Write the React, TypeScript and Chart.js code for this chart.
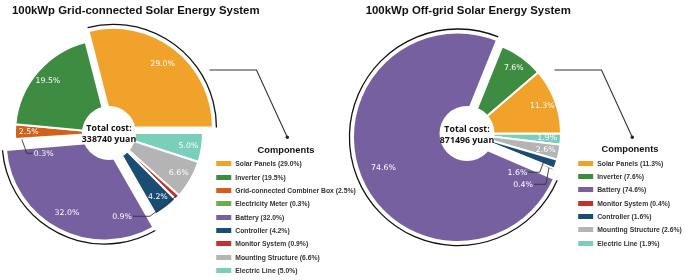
import React, { useEffect, useRef } from 'react';
import { Chart, registerables } from 'chart.js';

Chart.register(...registerables);

// ---------- data ----------
const gridTitle = '100kWp Grid-connected Solar Energy System';
const gridCategories = [
  'Solar Panels',
  'Inverter',
  'Grid-connected Combiner Box',
  'Electricity Meter',
  'Battery',
  'Controller',
  'Monitor System',
  'Mounting Structure',
  'Electric Line',
];
const gridShares = [29.0, 19.5, 2.5, 0.3, 32.0, 4.2, 0.9, 6.6, 5.0];
const gridTotalCost = 338740;

const offTitle = '100kWp Off-grid Solar Energy System';
const offCategories = [
  'Solar Panels',
  'Inverter',
  'Battery',
  'Monitor System',
  'Controller',
  'Mounting Structure',
  'Electric Line',
];
const offShares = [11.3, 7.6, 74.6, 0.4, 1.6, 2.6, 1.9];
const offTotalCost = 871496;

const legendTitle = 'Components';
const centerCaption = 'Total cost:';
const currencyUnit = 'yuan';

// ---------- styles ----------
const COLORS: Record<string, string> = {
  'Solar Panels': '#F0A22A',
  Inverter: '#3E8C41',
  'Grid-connected Combiner Box': '#D1601B',
  'Electricity Meter': '#6BAE4C',
  Battery: '#76609F',
  Controller: '#1A4D73',
  'Monitor System': '#C53028',
  'Mounting Structure': '#B4B4B4',
  'Electric Line': '#7ACFBB',
};

type Callout = { r: number; elbow: [number, number]; len: number };
type PanelStyle = {
  left: number;
  width: number;
  padding: { left: number; right: number; top: number; bottom: number };
  radius: number;
  hole: number;
  labelR: number;
  outlineGap: number;
  explode: Record<string, number>;
  scale: Record<string, number>;
  callouts: Record<string, Callout>;
  titleLeft: number;
  legendCenter: number;
  legendTop: number;
};

const CONNECTOR: [number, number][] = [
  [209.5, 70],
  [256.5, 70],
  [287.3, 137.3],
];

const gridStyle: PanelStyle = {
  left: 0,
  width: 345,
  padding: { left: 0, right: 127, top: 30, bottom: 44 },
  radius: 94,
  hole: 27,
  labelR: 0.855,
  outlineGap: 3.5,
  explode: { 'Solar Panels': 7, Battery: 10 },
  scale: { 'Solar Panels': 1.06, Battery: 1.05 },
  callouts: {
    'Electricity Meter': { r: 0.93, elbow: [5, 14], len: 6 },
    'Monitor System': { r: 0.98, elbow: [-26, 20], len: -17 },
  },
  titleLeft: 12,
  legendCenter: 286,
  legendTop: 144.1,
};

const offStyle: PanelStyle = {
  left: 345,
  width: 340,
  padding: { left: 0, right: 96, top: 30, bottom: 43 },
  radius: 94,
  hole: 27.5,
  labelR: 0.855,
  outlineGap: 3.5,
  explode: { Battery: 10 },
  scale: { Battery: 1.115 },
  callouts: {
    Controller: { r: 0.87, elbow: [-4.5, 12], len: -11.5 },
    'Monitor System': { r: 0.945, elbow: [-3, 16.5], len: -12 },
  },
  titleLeft: 365.7,
  legendCenter: 630,
  legendTop: 143.4,
};

function decorPlugin(order: string[], vals: number[], total: number, st: PanelStyle) {
  return {
    id: 'decor',
    afterDatasetUpdate(_chart: any, args: any) {
      args.meta.data.forEach((el: any, i: number) => {
        const name = order[i];
        const mid = (el.startAngle + el.endAngle) / 2;
        const ex = st.explode[name] || 0;
        el.x += Math.cos(mid) * ex;
        el.y += Math.sin(mid) * ex;
        el.outerRadius *= st.scale[name] || 1;
      });
    },
    afterDatasetsDraw(chart: any) {
      const ctx: CanvasRenderingContext2D = chart.ctx;
      const area = chart.chartArea;
      const cx = (area.left + area.right) / 2;
      const cy = (area.top + area.bottom) / 2;
      const meta = chart.getDatasetMeta(0);
      const R = st.radius;
      ctx.save();

      // outline arcs around emphasised slices
      meta.data.forEach((el: any, i: number) => {
        if (!st.scale[order[i]]) return;
        ctx.beginPath();
        ctx.arc(el.x, el.y, el.outerRadius + st.outlineGap, el.startAngle, el.endAngle);
        ctx.strokeStyle = '#111';
        ctx.lineWidth = 1.3;
        ctx.stroke();
      });

      // centre hole
      ctx.beginPath();
      ctx.arc(cx, cy, st.hole, 0, Math.PI * 2);
      ctx.fillStyle = '#fff';
      ctx.fill();

      // percentage labels
      ctx.font = '7.8px "DejaVu Sans", sans-serif';
      ctx.textBaseline = 'middle';
      meta.data.forEach((el: any, i: number) => {
        const name = order[i];
        const mid = (el.startAngle + el.endAngle) / 2;
        const text = vals[i].toFixed(1) + '%';
        const co = st.callouts[name];
        ctx.fillStyle = '#fff';
        if (co) {
          const px = el.x + Math.cos(mid) * co.r * R;
          const py = el.y + Math.sin(mid) * co.r * R;
          const ex = px + co.elbow[0];
          const ey = py + co.elbow[1];
          const tx = ex + co.len;
          ctx.beginPath();
          ctx.moveTo(px, py);
          ctx.lineTo(ex, ey);
          ctx.lineTo(tx, ey);
          ctx.strokeStyle = '#333';
          ctx.lineWidth = 0.9;
          ctx.stroke();
          ctx.textAlign = co.len > 0 ? 'left' : 'right';
          ctx.fillText(text, tx + Math.sign(co.len) * 1, ey + 0.5);
        } else {
          ctx.textAlign = 'center';
          ctx.fillText(
            text,
            el.x + Math.cos(mid) * st.labelR * R,
            el.y + Math.sin(mid) * st.labelR * R
          );
        }
      });

      // centre text
      ctx.font = '700 8.8px "Open Sans", sans-serif';
      ctx.fillStyle = '#111';
      ctx.textAlign = 'center';
      ctx.fillText(centerCaption, cx, cy - 4.3);
      ctx.fillText(`${total} ${currencyUnit}`, cx, cy + 6.8);

      // connector to legend
      ctx.beginPath();
      CONNECTOR.forEach(([x, y], k) => (k === 0 ? ctx.moveTo(x, y) : ctx.lineTo(x, y)));
      ctx.strokeStyle = '#333';
      ctx.lineWidth = 1.1;
      ctx.stroke();
      const [dx, dy] = CONNECTOR[CONNECTOR.length - 1];
      ctx.beginPath();
      ctx.arc(dx, dy, 1.7, 0, Math.PI * 2);
      ctx.fillStyle = '#222';
      ctx.fill();

      ctx.restore();
    },
  };
}

function PiePanel({
  categories,
  shares,
  total,
  st,
}: {
  categories: string[];
  shares: number[];
  total: number;
  st: PanelStyle;
}) {
  const ref = useRef<HTMLCanvasElement>(null);
  useEffect(() => {
    const order = [...categories].reverse();
    const vals = [...shares].reverse();
    const chart = new Chart(ref.current as HTMLCanvasElement, {
      type: 'pie',
      data: {
        labels: order,
        datasets: [
          {
            data: vals,
            backgroundColor: order.map((n) => COLORS[n]),
            borderColor: '#ffffff',
            borderWidth: 2,
            hoverOffset: 0,
          },
        ],
      },
      options: {
        responsive: false,
        animation: false,
        rotation: 90,
        radius: st.radius,
        layout: { padding: st.padding },
        events: [],
        plugins: {
          legend: { display: false },
          tooltip: { enabled: false },
          title: { display: false },
        },
      } as any,
      plugins: [decorPlugin(order, vals, total, st) as any],
    });
    return () => chart.destroy();
  }, []);
  return (
    <canvas
      ref={ref}
      width={st.width}
      height={280}
      style={{ position: 'absolute', left: st.left, top: 0, width: st.width, height: 280 }}
    />
  );
}

function Legend({
  categories,
  shares,
  st,
}: {
  categories: string[];
  shares: number[];
  st: PanelStyle;
}) {
  return (
    <div
      style={{
        position: 'absolute',
        left: st.legendCenter,
        top: st.legendTop,
        transform: 'translateX(-50%)',
        whiteSpace: 'nowrap',
        fontFamily: '"Liberation Sans", Arial, sans-serif',
        zIndex: 2,
      }}
    >
      <div
        style={{
          textAlign: 'center',
          fontWeight: 700,
          fontSize: 9.3,
          lineHeight: '12px',
          color: '#111',
          marginBottom: 1.2,
        }}
      >
        {legendTitle}
      </div>
      {categories.map((c, i) => (
        <div key={c} style={{ display: 'flex', alignItems: 'center', height: 13.33 }}>
          <span
            style={{
              display: 'inline-block',
              width: 15,
              height: 5,
              background: COLORS[c],
              marginRight: 4,
              flex: 'none',
            }}
          />
          <span style={{ fontSize: 6.8, fontWeight: 700, color: '#333', lineHeight: '13.33px' }}>
            {c} ({shares[i].toFixed(1)}%)
          </span>
        </div>
      ))}
    </div>
  );
}

function Title({ text, left }: { text: string; left: number }) {
  return (
    <div
      style={{
        position: 'absolute',
        left,
        top: 3.5,
        fontFamily: '"Liberation Sans", Arial, sans-serif',
        fontWeight: 700,
        fontSize: 11.4,
        lineHeight: '13px',
        color: '#111',
        whiteSpace: 'nowrap',
        zIndex: 2,
      }}
    >
      {text}
    </div>
  );
}

export default function App() {
  return (
    <div
      style={{
        position: 'fixed',
        left: 0,
        top: 0,
        width: 685,
        height: 280,
        background: '#fff',
        overflow: 'hidden',
      }}
    >
      <PiePanel categories={gridCategories} shares={gridShares} total={gridTotalCost} st={gridStyle} />
      <PiePanel categories={offCategories} shares={offShares} total={offTotalCost} st={offStyle} />
      <Title text={gridTitle} left={gridStyle.titleLeft} />
      <Title text={offTitle} left={offStyle.titleLeft} />
      <Legend categories={gridCategories} shares={gridShares} st={gridStyle} />
      <Legend categories={offCategories} shares={offShares} st={offStyle} />
    </div>
  );
}
